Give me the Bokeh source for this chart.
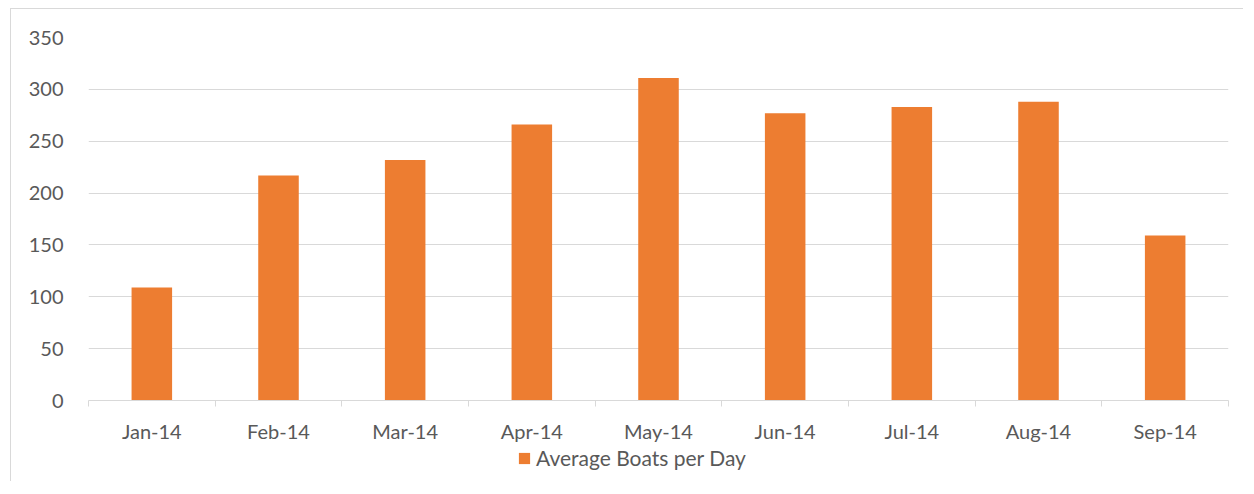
from bokeh.plotting import figure
from bokeh.models import ColumnDataSource, FixedTicker, Range1d, Legend, LegendItem
from bokeh.layouts import column
from bokeh.embed import file_html
from bokeh.resources import INLINE

months = ["Jan-14", "Feb-14", "Mar-14", "Apr-14", "May-14", "Jun-14", "Jul-14", "Aug-14", "Sep-14"]
boats = [109, 217, 232, 266, 311, 277, 283, 288, 159]
y_ticks = [0, 50, 100, 150, 200, 250, 300, 350]
series_name = "Average Boats per Day"

FONT = "Lato"
TXT = "#595959"
GRID = "#d9d9d9"
BAR = "#ED7D31"

xpos = [i + 0.5 for i in range(len(months))]
src = ColumnDataSource(dict(x=xpos, top=boats, month=months))

p = figure(frame_width=1140, frame_height=363, output_backend="svg", toolbar_location=None,
           x_range=Range1d(0, len(months)), y_range=Range1d(0, 350),
           min_border_left=77, min_border_right=15, min_border_top=28, min_border_bottom=0)
p.outline_line_color = None
p.background_fill_color = "white"
p.border_fill_color = "white"

r = p.vbar(x="x", top="top", width=0.32, bottom=0, source=src, fill_color=BAR, line_color=None)

# y axis
p.yaxis.ticker = FixedTicker(ticks=y_ticks)
p.yaxis.axis_line_color = None
p.yaxis.major_tick_line_color = None
p.yaxis.minor_tick_line_color = None
p.yaxis.major_tick_out = 0
p.yaxis.major_tick_in = 0
p.yaxis.major_label_standoff = 25
p.yaxis.major_label_text_font = FONT
p.yaxis.major_label_text_font_size = "20px"
p.yaxis.major_label_text_color = TXT

# x axis
p.xaxis.ticker = FixedTicker(ticks=xpos, minor_ticks=list(range(len(months) + 1)))
p.xaxis.major_label_overrides = {x: m for x, m in zip(xpos, months)}
p.xaxis.axis_line_color = GRID
p.xaxis.axis_line_width = 1
p.xaxis.major_tick_line_color = None
p.xaxis.major_tick_out = 6
p.xaxis.major_tick_in = 0
p.xaxis.minor_tick_line_color = GRID
p.xaxis.minor_tick_out = 6
p.xaxis.minor_tick_in = 0
p.xaxis.major_label_standoff = 12
p.xaxis.major_label_text_font = FONT
p.xaxis.major_label_text_font_size = "20px"
p.xaxis.major_label_text_color = TXT

p.xgrid.grid_line_color = None
p.ygrid.grid_line_color = GRID
p.ygrid.grid_line_width = 1
p.ygrid.ticker = FixedTicker(ticks=y_ticks)

# legend strip below the chart
lf = figure(frame_width=1140, frame_height=36, output_backend="svg", toolbar_location=None,
            x_range=Range1d(0, 1), y_range=Range1d(0, 1), x_axis_type=None, y_axis_type=None,
            min_border_left=77, min_border_right=15, min_border_top=0, min_border_bottom=0)
lf.outline_line_color = None
lf.xgrid.visible = False
lf.ygrid.visible = False
lf.background_fill_color = "white"
lf.border_fill_color = "white"
# zero-height key bar: only its legend swatch is visible
key = lf.vbar(x="x", top="top", bottom="top", width=0.01,
              source=ColumnDataSource(dict(x=[0.5], top=[0])),
              fill_color=BAR, line_color=None)
legend = Legend(items=[LegendItem(label=series_name, renderers=[key])],
                orientation="horizontal", location=(429, 11),
                label_text_font=FONT, label_text_font_size="21px", label_text_color=TXT,
                label_height=20, glyph_width=14, glyph_height=14, label_standoff=5,
                border_line_color=None, background_fill_alpha=0,
                margin=0, padding=2, spacing=0)
lf.add_layout(legend, "center")

layout = column(p, lf, spacing=0,
                styles={"border-left": "1px solid #d9d9d9", "border-top": "1px solid #d9d9d9",
                        "margin-left": "10px", "margin-top": "8px"})

open("out.html", "w").write(file_html(layout, INLINE))
